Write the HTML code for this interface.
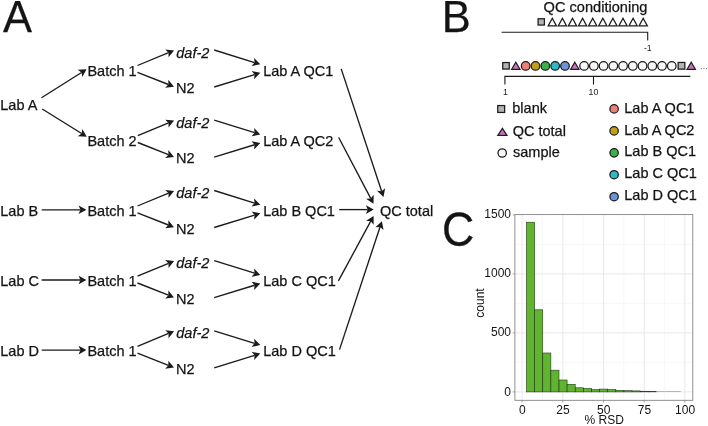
<!DOCTYPE html>
<html><head><meta charset="utf-8"><title>Figure</title>
<style>
html,body{margin:0;padding:0;background:#fff;}
body{width:708px;height:426px;overflow:hidden;font-family:"Liberation Sans",sans-serif;}
svg{display:block;will-change:transform;}
svg text{font-family:"Liberation Sans",sans-serif;}
</style></head><body>
<svg width="708" height="426" viewBox="0 0 708 426" font-family="Liberation Sans, sans-serif">
<text x="3.1" y="32.4" font-size="43.5" text-anchor="start" fill="#141414" stroke="#141414" stroke-width="0.25">A</text>
<text x="0.3" y="110.4" font-size="14.5" text-anchor="start" fill="#141414" stroke="#141414" stroke-width="0.25">Lab A</text>
<line x1="41.50" y1="97.70" x2="81.52" y2="72.50" stroke="#1a1a1a" stroke-width="1.35"/>
<polygon points="86.60,69.30 77.71,69.82 81.52,72.50 82.29,77.09" fill="#1a1a1a"/>
<line x1="42.20" y1="109.00" x2="81.61" y2="133.53" stroke="#1a1a1a" stroke-width="1.35"/>
<polygon points="86.70,136.70 82.35,128.93 81.61,133.53 77.81,136.23" fill="#1a1a1a"/>
<text x="87.4" y="75.6" font-size="14.5" text-anchor="start" fill="#141414" stroke="#141414" stroke-width="0.25">Batch 1</text>
<text x="176.3" y="57.599999999999994" font-size="14.5" text-anchor="start" font-style="italic" fill="#141414" stroke="#141414" stroke-width="0.25">daf-2</text>
<text x="176.0" y="93.19999999999999" font-size="14.5" text-anchor="start" fill="#141414" stroke="#141414" stroke-width="0.25">N2</text>
<text x="263.2" y="75.6" font-size="14.5" text-anchor="start" fill="#141414" stroke="#141414" stroke-width="0.25">Lab A QC1</text>
<line x1="137.50" y1="65.50" x2="168.55" y2="52.69" stroke="#1a1a1a" stroke-width="1.35"/>
<polygon points="174.10,50.40 165.25,49.40 168.55,52.69 168.53,57.35" fill="#1a1a1a"/>
<line x1="137.50" y1="72.30" x2="168.42" y2="84.50" stroke="#1a1a1a" stroke-width="1.35"/>
<polygon points="174.00,86.70 168.32,79.84 168.42,84.50 165.17,87.84" fill="#1a1a1a"/>
<line x1="214.20" y1="50.00" x2="254.57" y2="62.52" stroke="#1a1a1a" stroke-width="1.35"/>
<polygon points="260.30,64.30 254.12,57.88 254.57,62.52 251.58,66.10" fill="#1a1a1a"/>
<line x1="214.20" y1="87.00" x2="254.57" y2="74.57" stroke="#1a1a1a" stroke-width="1.35"/>
<polygon points="260.30,72.80 251.58,70.99 254.57,74.57 254.11,79.21" fill="#1a1a1a"/>
<text x="87.4" y="145.8" font-size="14.5" text-anchor="start" fill="#141414" stroke="#141414" stroke-width="0.25">Batch 2</text>
<text x="176.3" y="127.80000000000001" font-size="14.5" text-anchor="start" font-style="italic" fill="#141414" stroke="#141414" stroke-width="0.25">daf-2</text>
<text x="176.0" y="163.4" font-size="14.5" text-anchor="start" fill="#141414" stroke="#141414" stroke-width="0.25">N2</text>
<text x="263.2" y="145.8" font-size="14.5" text-anchor="start" fill="#141414" stroke="#141414" stroke-width="0.25">Lab A QC2</text>
<line x1="137.80" y1="135.70" x2="168.56" y2="122.90" stroke="#1a1a1a" stroke-width="1.35"/>
<polygon points="174.10,120.60 165.25,119.63 168.56,122.90 168.55,127.57" fill="#1a1a1a"/>
<line x1="137.80" y1="142.50" x2="168.42" y2="154.68" stroke="#1a1a1a" stroke-width="1.35"/>
<polygon points="174.00,156.90 168.34,150.02 168.42,154.68 165.16,158.01" fill="#1a1a1a"/>
<line x1="214.20" y1="120.20" x2="254.57" y2="132.72" stroke="#1a1a1a" stroke-width="1.35"/>
<polygon points="260.30,134.50 254.12,128.08 254.57,132.72 251.58,136.30" fill="#1a1a1a"/>
<line x1="214.20" y1="157.20" x2="254.57" y2="144.77" stroke="#1a1a1a" stroke-width="1.35"/>
<polygon points="260.30,143.00 251.58,141.19 254.57,144.77 254.11,149.41" fill="#1a1a1a"/>
<text x="87.4" y="216.1" font-size="14.5" text-anchor="start" fill="#141414" stroke="#141414" stroke-width="0.25">Batch 1</text>
<text x="176.3" y="198.1" font-size="14.5" text-anchor="start" font-style="italic" fill="#141414" stroke="#141414" stroke-width="0.25">daf-2</text>
<text x="176.0" y="233.7" font-size="14.5" text-anchor="start" fill="#141414" stroke="#141414" stroke-width="0.25">N2</text>
<text x="263.2" y="216.1" font-size="14.5" text-anchor="start" fill="#141414" stroke="#141414" stroke-width="0.25">Lab B QC1</text>
<line x1="137.50" y1="206.00" x2="168.55" y2="193.19" stroke="#1a1a1a" stroke-width="1.35"/>
<polygon points="174.10,190.90 165.25,189.90 168.55,193.19 168.53,197.85" fill="#1a1a1a"/>
<line x1="137.50" y1="212.80" x2="168.42" y2="225.00" stroke="#1a1a1a" stroke-width="1.35"/>
<polygon points="174.00,227.20 168.32,220.34 168.42,225.00 165.17,228.34" fill="#1a1a1a"/>
<line x1="214.20" y1="190.50" x2="254.57" y2="203.02" stroke="#1a1a1a" stroke-width="1.35"/>
<polygon points="260.30,204.80 254.12,198.38 254.57,203.02 251.58,206.60" fill="#1a1a1a"/>
<line x1="214.20" y1="227.50" x2="254.57" y2="215.07" stroke="#1a1a1a" stroke-width="1.35"/>
<polygon points="260.30,213.30 251.58,211.49 254.57,215.07 254.11,219.71" fill="#1a1a1a"/>
<text x="0.3" y="216.1" font-size="14.5" text-anchor="start" fill="#141414" stroke="#141414" stroke-width="0.25">Lab B</text>
<line x1="41.70" y1="209.80" x2="80.40" y2="209.80" stroke="#1a1a1a" stroke-width="1.35"/>
<polygon points="86.40,209.80 78.60,205.50 80.40,209.80 78.60,214.10" fill="#1a1a1a"/>
<text x="87.4" y="286.3" font-size="14.5" text-anchor="start" fill="#141414" stroke="#141414" stroke-width="0.25">Batch 1</text>
<text x="176.3" y="268.3" font-size="14.5" text-anchor="start" font-style="italic" fill="#141414" stroke="#141414" stroke-width="0.25">daf-2</text>
<text x="176.0" y="303.90000000000003" font-size="14.5" text-anchor="start" fill="#141414" stroke="#141414" stroke-width="0.25">N2</text>
<text x="263.2" y="286.3" font-size="14.5" text-anchor="start" fill="#141414" stroke="#141414" stroke-width="0.25">Lab C QC1</text>
<line x1="137.50" y1="276.20" x2="168.55" y2="263.39" stroke="#1a1a1a" stroke-width="1.35"/>
<polygon points="174.10,261.10 165.25,260.10 168.55,263.39 168.53,268.05" fill="#1a1a1a"/>
<line x1="137.50" y1="283.00" x2="168.42" y2="295.20" stroke="#1a1a1a" stroke-width="1.35"/>
<polygon points="174.00,297.40 168.32,290.54 168.42,295.20 165.17,298.54" fill="#1a1a1a"/>
<line x1="214.20" y1="260.70" x2="254.57" y2="273.22" stroke="#1a1a1a" stroke-width="1.35"/>
<polygon points="260.30,275.00 254.12,268.58 254.57,273.22 251.58,276.80" fill="#1a1a1a"/>
<line x1="214.20" y1="297.70" x2="254.57" y2="285.27" stroke="#1a1a1a" stroke-width="1.35"/>
<polygon points="260.30,283.50 251.58,281.69 254.57,285.27 254.11,289.91" fill="#1a1a1a"/>
<text x="0.3" y="286.3" font-size="14.5" text-anchor="start" fill="#141414" stroke="#141414" stroke-width="0.25">Lab C</text>
<line x1="41.70" y1="280.00" x2="80.40" y2="280.00" stroke="#1a1a1a" stroke-width="1.35"/>
<polygon points="86.40,280.00 78.60,275.70 80.40,280.00 78.60,284.30" fill="#1a1a1a"/>
<text x="87.4" y="356.4" font-size="14.5" text-anchor="start" fill="#141414" stroke="#141414" stroke-width="0.25">Batch 1</text>
<text x="176.3" y="338.4" font-size="14.5" text-anchor="start" font-style="italic" fill="#141414" stroke="#141414" stroke-width="0.25">daf-2</text>
<text x="176.0" y="374.0" font-size="14.5" text-anchor="start" fill="#141414" stroke="#141414" stroke-width="0.25">N2</text>
<text x="263.2" y="356.4" font-size="14.5" text-anchor="start" fill="#141414" stroke="#141414" stroke-width="0.25">Lab D QC1</text>
<line x1="137.50" y1="346.30" x2="168.55" y2="333.49" stroke="#1a1a1a" stroke-width="1.35"/>
<polygon points="174.10,331.20 165.25,330.20 168.55,333.49 168.53,338.15" fill="#1a1a1a"/>
<line x1="137.50" y1="353.10" x2="168.42" y2="365.30" stroke="#1a1a1a" stroke-width="1.35"/>
<polygon points="174.00,367.50 168.32,360.64 168.42,365.30 165.17,368.64" fill="#1a1a1a"/>
<line x1="214.20" y1="330.80" x2="254.57" y2="343.32" stroke="#1a1a1a" stroke-width="1.35"/>
<polygon points="260.30,345.10 254.12,338.68 254.57,343.32 251.58,346.90" fill="#1a1a1a"/>
<line x1="214.20" y1="367.80" x2="254.57" y2="355.37" stroke="#1a1a1a" stroke-width="1.35"/>
<polygon points="260.30,353.60 251.58,351.79 254.57,355.37 254.11,360.01" fill="#1a1a1a"/>
<text x="0.3" y="356.4" font-size="14.5" text-anchor="start" fill="#141414" stroke="#141414" stroke-width="0.25">Lab D</text>
<line x1="41.70" y1="350.10" x2="80.40" y2="350.10" stroke="#1a1a1a" stroke-width="1.35"/>
<polygon points="86.40,350.10 78.60,345.80 80.40,350.10 78.60,354.40" fill="#1a1a1a"/>
<text x="380.0" y="215.9" font-size="14.5" text-anchor="start" fill="#141414" stroke="#141414" stroke-width="0.25">QC total</text>
<line x1="341.20" y1="68.90" x2="381.62" y2="191.20" stroke="#1a1a1a" stroke-width="1.35"/>
<polygon points="383.50,196.90 385.14,188.14 381.62,191.20 376.97,190.84" fill="#1a1a1a"/>
<line x1="338.70" y1="137.50" x2="370.71" y2="198.39" stroke="#1a1a1a" stroke-width="1.35"/>
<polygon points="373.50,203.70 373.68,194.80 370.71,198.39 366.06,198.80" fill="#1a1a1a"/>
<line x1="339.20" y1="209.60" x2="367.70" y2="209.60" stroke="#1a1a1a" stroke-width="1.35"/>
<polygon points="373.70,209.60 365.90,205.30 367.70,209.60 365.90,213.90" fill="#1a1a1a"/>
<line x1="338.40" y1="280.90" x2="370.74" y2="221.18" stroke="#1a1a1a" stroke-width="1.35"/>
<polygon points="373.60,215.90 366.10,220.71 370.74,221.18 373.67,224.81" fill="#1a1a1a"/>
<line x1="339.50" y1="349.60" x2="380.02" y2="227.00" stroke="#1a1a1a" stroke-width="1.35"/>
<polygon points="381.90,221.30 375.37,227.36 380.02,227.00 383.54,230.06" fill="#1a1a1a"/>
<text x="441.8" y="31.9" font-size="43.5" text-anchor="start" fill="#141414" stroke="#141414" stroke-width="0.25">B</text>
<text x="543.6" y="12.4" font-size="14.6" text-anchor="start" fill="#141414" stroke="#141414" stroke-width="0.25">QC conditioning</text>
<rect x="538.10" y="18.75" width="6.3" height="6.3" fill="#b4b4b4" stroke="#1c1c1c" stroke-width="1.25"/>
<polygon points="552.30,18.25 556.45,25.85 548.15,25.85" fill="#fafafa" stroke="#1c1c1c" stroke-width="1.25" stroke-linejoin="miter"/>
<polygon points="562.40,18.25 566.55,25.85 558.25,25.85" fill="#fafafa" stroke="#1c1c1c" stroke-width="1.25" stroke-linejoin="miter"/>
<polygon points="572.50,18.25 576.65,25.85 568.35,25.85" fill="#fafafa" stroke="#1c1c1c" stroke-width="1.25" stroke-linejoin="miter"/>
<polygon points="582.60,18.25 586.75,25.85 578.45,25.85" fill="#fafafa" stroke="#1c1c1c" stroke-width="1.25" stroke-linejoin="miter"/>
<polygon points="592.70,18.25 596.85,25.85 588.55,25.85" fill="#fafafa" stroke="#1c1c1c" stroke-width="1.25" stroke-linejoin="miter"/>
<polygon points="602.80,18.25 606.95,25.85 598.65,25.85" fill="#fafafa" stroke="#1c1c1c" stroke-width="1.25" stroke-linejoin="miter"/>
<polygon points="612.90,18.25 617.05,25.85 608.75,25.85" fill="#fafafa" stroke="#1c1c1c" stroke-width="1.25" stroke-linejoin="miter"/>
<polygon points="623.00,18.25 627.15,25.85 618.85,25.85" fill="#fafafa" stroke="#1c1c1c" stroke-width="1.25" stroke-linejoin="miter"/>
<polygon points="633.10,18.25 637.25,25.85 628.95,25.85" fill="#fafafa" stroke="#1c1c1c" stroke-width="1.25" stroke-linejoin="miter"/>
<polygon points="643.20,18.25 647.35,25.85 639.05,25.85" fill="#fafafa" stroke="#1c1c1c" stroke-width="1.25" stroke-linejoin="miter"/>
<path d="M501.6,32.3 H647.7 V40.5" fill="none" stroke="#1a1a1a" stroke-width="1.1"/>
<text x="647.8" y="51.2" font-size="8.8" text-anchor="middle" fill="#222" >-1</text>
<rect x="502.75" y="62.55" width="6.5" height="6.5" fill="#b4b4b4" stroke="#1c1c1c" stroke-width="1.25"/>
<polygon points="515.83,62.20 519.98,69.30 511.68,69.30" fill="#cc70c2" stroke="#1c1c1c" stroke-width="1.25" stroke-linejoin="miter"/>
<circle cx="525.66" cy="65.90" r="4.3" fill="#ee7f78" stroke="#1c1c1c" stroke-width="1.25"/>
<circle cx="535.49" cy="65.90" r="4.3" fill="#c2a015" stroke="#1c1c1c" stroke-width="1.25"/>
<circle cx="545.32" cy="65.90" r="4.3" fill="#3eb049" stroke="#1c1c1c" stroke-width="1.25"/>
<circle cx="555.15" cy="65.90" r="4.3" fill="#30b8c4" stroke="#1c1c1c" stroke-width="1.25"/>
<circle cx="564.98" cy="65.90" r="4.3" fill="#6c94d6" stroke="#1c1c1c" stroke-width="1.25"/>
<polygon points="574.81,62.20 578.96,69.30 570.66,69.30" fill="#cc70c2" stroke="#1c1c1c" stroke-width="1.25" stroke-linejoin="miter"/>
<circle cx="584.10" cy="65.90" r="4.3" fill="#f7f7f7" stroke="#1c1c1c" stroke-width="1.25"/>
<circle cx="593.84" cy="65.90" r="4.3" fill="#f7f7f7" stroke="#1c1c1c" stroke-width="1.25"/>
<circle cx="603.58" cy="65.90" r="4.3" fill="#f7f7f7" stroke="#1c1c1c" stroke-width="1.25"/>
<circle cx="613.32" cy="65.90" r="4.3" fill="#f7f7f7" stroke="#1c1c1c" stroke-width="1.25"/>
<circle cx="623.06" cy="65.90" r="4.3" fill="#f7f7f7" stroke="#1c1c1c" stroke-width="1.25"/>
<circle cx="632.80" cy="65.90" r="4.3" fill="#f7f7f7" stroke="#1c1c1c" stroke-width="1.25"/>
<circle cx="642.54" cy="65.90" r="4.3" fill="#f7f7f7" stroke="#1c1c1c" stroke-width="1.25"/>
<circle cx="652.28" cy="65.90" r="4.3" fill="#f7f7f7" stroke="#1c1c1c" stroke-width="1.25"/>
<circle cx="662.02" cy="65.90" r="4.3" fill="#f7f7f7" stroke="#1c1c1c" stroke-width="1.25"/>
<circle cx="671.76" cy="65.90" r="4.3" fill="#f7f7f7" stroke="#1c1c1c" stroke-width="1.25"/>
<rect x="678.15" y="62.45" width="6.7" height="6.7" fill="#b4b4b4" stroke="#1c1c1c" stroke-width="1.25"/>
<polygon points="691.24,62.20 695.39,69.30 687.09,69.30" fill="#cc70c2" stroke="#1c1c1c" stroke-width="1.25" stroke-linejoin="miter"/>
<circle cx="701.30" cy="68.6" r="0.6" fill="#666"/>
<circle cx="703.90" cy="68.6" r="0.6" fill="#666"/>
<circle cx="706.50" cy="68.6" r="0.6" fill="#666"/>
<path d="M504.9,84.6 V76.4 H690.3" fill="none" stroke="#1a1a1a" stroke-width="1.1"/>
<line x1="593.5" y1="76.4" x2="593.5" y2="84.6" stroke="#1a1a1a" stroke-width="1.1"/>
<text x="505.4" y="95.3" font-size="8.8" text-anchor="middle" fill="#222" >1</text>
<text x="593.5" y="95.3" font-size="8.8" text-anchor="middle" fill="#222" >10</text>
<rect x="497.75" y="105.55" width="6.9" height="6.9" fill="#b4b4b4" stroke="#1c1c1c" stroke-width="1.25"/>
<text x="512.3" y="112.7" font-size="14.5" text-anchor="start" fill="#141414" stroke="#141414" stroke-width="0.25">blank</text>
<polygon points="502.40,128.40 506.95,135.40 497.85,135.40" fill="#cc70c2" stroke="#1c1c1c" stroke-width="1.25" stroke-linejoin="miter"/>
<text x="512.7" y="135.7" font-size="14.5" text-anchor="start" fill="#141414" stroke="#141414" stroke-width="0.25">QC total</text>
<circle cx="502.20" cy="153.00" r="4.2" fill="#f7f7f7" stroke="#1c1c1c" stroke-width="1.25"/>
<text x="513.0" y="156.6" font-size="14.5" text-anchor="start" fill="#141414" stroke="#141414" stroke-width="0.25">sample</text>
<circle cx="614.10" cy="108.90" r="4.2" fill="#ee7f78" stroke="#1c1c1c" stroke-width="1.25"/>
<text x="624.3" y="112.5" font-size="14.5" text-anchor="start" fill="#141414" stroke="#141414" stroke-width="0.25">Lab A QC1</text>
<circle cx="614.10" cy="130.90" r="4.2" fill="#c2a015" stroke="#1c1c1c" stroke-width="1.25"/>
<text x="624.3" y="134.5" font-size="14.5" text-anchor="start" fill="#141414" stroke="#141414" stroke-width="0.25">Lab A QC2</text>
<circle cx="614.10" cy="152.80" r="4.2" fill="#3eb049" stroke="#1c1c1c" stroke-width="1.25"/>
<text x="624.3" y="156.4" font-size="14.5" text-anchor="start" fill="#141414" stroke="#141414" stroke-width="0.25">Lab B QC1</text>
<circle cx="614.10" cy="174.70" r="4.2" fill="#30b8c4" stroke="#1c1c1c" stroke-width="1.25"/>
<text x="624.3" y="178.3" font-size="14.5" text-anchor="start" fill="#141414" stroke="#141414" stroke-width="0.25">Lab C QC1</text>
<circle cx="614.10" cy="196.70" r="4.2" fill="#6c94d6" stroke="#1c1c1c" stroke-width="1.25"/>
<text x="624.3" y="200.3" font-size="14.5" text-anchor="start" fill="#141414" stroke="#141414" stroke-width="0.25">Lab D QC1</text>
<text transform="translate(441.9,245.6) scale(1,1.07)" font-size="44.6" fill="#141414" stroke="#141414" stroke-width="0.25">C</text>
<rect x="514.9" y="214.6" width="177.89999999999998" height="185.70000000000002" fill="#fff" stroke="none"/>
<line x1="542.45" y1="214.6" x2="542.45" y2="400.3" stroke="#f3f3f3" stroke-width="0.7"/>
<line x1="583.15" y1="214.6" x2="583.15" y2="400.3" stroke="#f3f3f3" stroke-width="0.7"/>
<line x1="623.85" y1="214.6" x2="623.85" y2="400.3" stroke="#f3f3f3" stroke-width="0.7"/>
<line x1="664.55" y1="214.6" x2="664.55" y2="400.3" stroke="#f3f3f3" stroke-width="0.7"/>
<line x1="514.9" y1="362.40" x2="692.8" y2="362.40" stroke="#f3f3f3" stroke-width="0.7"/>
<line x1="514.9" y1="303.40" x2="692.8" y2="303.40" stroke="#f3f3f3" stroke-width="0.7"/>
<line x1="514.9" y1="244.40" x2="692.8" y2="244.40" stroke="#f3f3f3" stroke-width="0.7"/>
<line x1="522.10" y1="214.6" x2="522.10" y2="400.3" stroke="#e8e8e8" stroke-width="1"/>
<line x1="562.80" y1="214.6" x2="562.80" y2="400.3" stroke="#e8e8e8" stroke-width="1"/>
<line x1="603.50" y1="214.6" x2="603.50" y2="400.3" stroke="#e8e8e8" stroke-width="1"/>
<line x1="644.20" y1="214.6" x2="644.20" y2="400.3" stroke="#e8e8e8" stroke-width="1"/>
<line x1="684.90" y1="214.6" x2="684.90" y2="400.3" stroke="#e8e8e8" stroke-width="1"/>
<line x1="514.9" y1="391.90" x2="692.8" y2="391.90" stroke="#e8e8e8" stroke-width="1"/>
<line x1="514.9" y1="332.90" x2="692.8" y2="332.90" stroke="#e8e8e8" stroke-width="1"/>
<line x1="514.9" y1="273.90" x2="692.8" y2="273.90" stroke="#e8e8e8" stroke-width="1"/>
<rect x="526.50" y="222.20" width="8.12" height="169.70" fill="#61b430" stroke="#1d3a10" stroke-width="0.6"/>
<rect x="534.62" y="309.80" width="8.12" height="82.10" fill="#61b430" stroke="#1d3a10" stroke-width="0.6"/>
<rect x="542.74" y="353.00" width="8.12" height="38.90" fill="#61b430" stroke="#1d3a10" stroke-width="0.6"/>
<rect x="550.86" y="370.20" width="8.12" height="21.70" fill="#61b430" stroke="#1d3a10" stroke-width="0.6"/>
<rect x="558.98" y="380.00" width="8.12" height="11.90" fill="#61b430" stroke="#1d3a10" stroke-width="0.6"/>
<rect x="567.10" y="384.30" width="8.12" height="7.60" fill="#61b430" stroke="#1d3a10" stroke-width="0.6"/>
<rect x="575.22" y="387.80" width="8.12" height="4.10" fill="#61b430" stroke="#1d3a10" stroke-width="0.6"/>
<rect x="583.34" y="388.50" width="8.12" height="3.40" fill="#61b430" stroke="#1d3a10" stroke-width="0.6"/>
<rect x="591.46" y="389.60" width="8.12" height="2.30" fill="#61b430" stroke="#1d3a10" stroke-width="0.6"/>
<rect x="599.58" y="389.10" width="8.12" height="2.80" fill="#61b430" stroke="#1d3a10" stroke-width="0.6"/>
<rect x="607.70" y="389.50" width="8.12" height="2.40" fill="#61b430" stroke="#1d3a10" stroke-width="0.6"/>
<rect x="615.82" y="390.40" width="8.12" height="1.50" fill="#61b430" stroke="#1d3a10" stroke-width="0.6"/>
<rect x="623.94" y="390.70" width="8.12" height="1.20" fill="#61b430" stroke="#1d3a10" stroke-width="0.6"/>
<rect x="632.06" y="390.90" width="8.12" height="1.00" fill="#61b430" stroke="#1d3a10" stroke-width="0.6"/>
<rect x="640.18" y="391.20" width="8.12" height="0.70" fill="#2f4a22" stroke="#26331f" stroke-width="0.5"/>
<rect x="648.30" y="391.40" width="8.12" height="0.50" fill="#2f4a22" stroke="#26331f" stroke-width="0.5"/>
<rect x="656.42" y="391.20" width="8.12" height="0.7" fill="#9a9a9a"/>
<rect x="664.54" y="391.20" width="8.12" height="0.7" fill="#9a9a9a"/>
<rect x="672.66" y="391.20" width="8.12" height="0.7" fill="#9a9a9a"/>
<rect x="514.9" y="214.6" width="177.89999999999998" height="185.70000000000002" fill="none" stroke="#7d7d7d" stroke-width="0.85"/>
<line x1="522.10" y1="400.3" x2="522.10" y2="402.5" stroke="#808080" stroke-width="0.7"/>
<line x1="562.80" y1="400.3" x2="562.80" y2="402.5" stroke="#808080" stroke-width="0.7"/>
<line x1="603.50" y1="400.3" x2="603.50" y2="402.5" stroke="#808080" stroke-width="0.7"/>
<line x1="644.20" y1="400.3" x2="644.20" y2="402.5" stroke="#808080" stroke-width="0.7"/>
<line x1="684.90" y1="400.3" x2="684.90" y2="402.5" stroke="#808080" stroke-width="0.7"/>
<line x1="512.6999999999999" y1="391.90" x2="514.9" y2="391.90" stroke="#808080" stroke-width="0.7"/>
<line x1="512.6999999999999" y1="332.90" x2="514.9" y2="332.90" stroke="#808080" stroke-width="0.7"/>
<line x1="512.6999999999999" y1="273.90" x2="514.9" y2="273.90" stroke="#808080" stroke-width="0.7"/>
<line x1="512.6999999999999" y1="214.90" x2="514.9" y2="214.90" stroke="#808080" stroke-width="0.7"/>
<text x="511.0" y="395.6" font-size="12" text-anchor="end" fill="#141414" >0</text>
<text x="511.0" y="335.8" font-size="12" text-anchor="end" fill="#141414" >500</text>
<text x="511.0" y="276.7" font-size="12" text-anchor="end" fill="#141414" >1000</text>
<text x="511.0" y="217.9" font-size="12" text-anchor="end" fill="#141414" >1500</text>
<text x="522.3000000000001" y="413.9" font-size="12" text-anchor="middle" fill="#141414" >0</text>
<text x="563.0000000000001" y="413.9" font-size="12" text-anchor="middle" fill="#141414" >25</text>
<text x="603.7" y="413.9" font-size="12" text-anchor="middle" fill="#141414" >50</text>
<text x="644.4000000000001" y="413.9" font-size="12" text-anchor="middle" fill="#141414" >75</text>
<text x="685.1" y="413.9" font-size="12" text-anchor="middle" fill="#141414" >100</text>
<text x="604.2" y="424.3" font-size="12" text-anchor="middle" fill="#141414" >% RSD</text>
<text transform="translate(483.5,303) rotate(-90)" font-size="12" text-anchor="middle" fill="#141414">count</text>
</svg>
</body></html>
